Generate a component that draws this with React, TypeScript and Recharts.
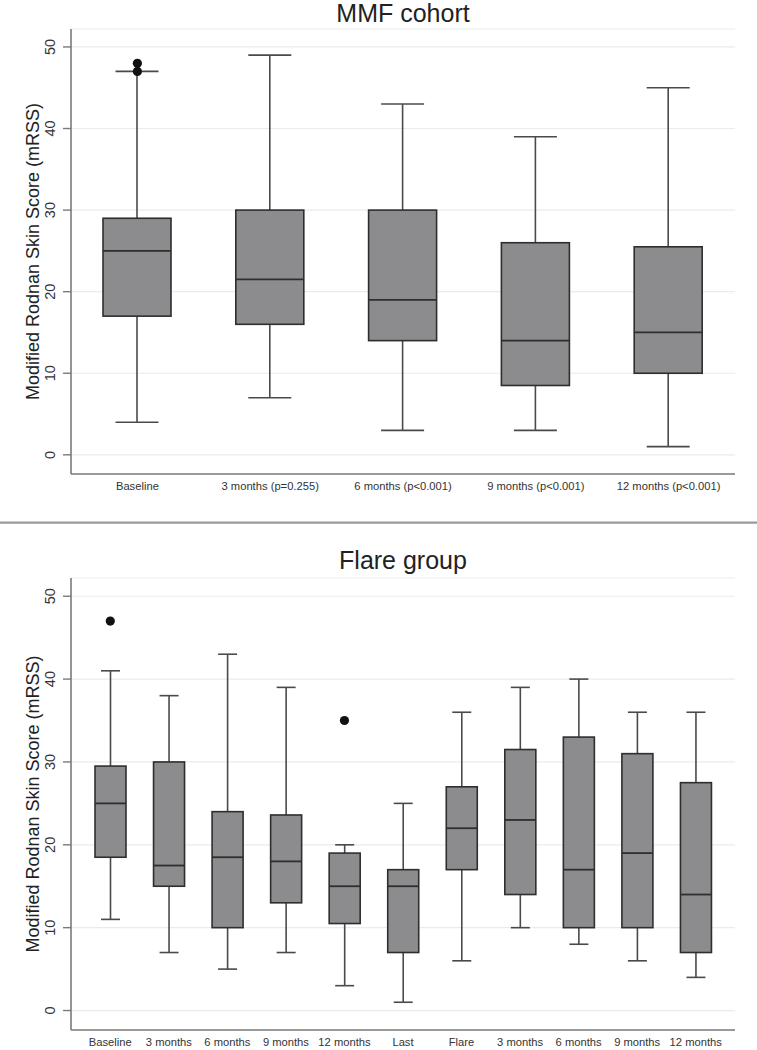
import React from "react";
import { ComposedChart, Bar, Line, XAxis, YAxis, CartesianGrid } from "recharts";

// ---- MMF cohort ----
const mmfCategories = ["Baseline", "3 months (p=0.255)", "6 months (p<0.001)", "9 months (p<0.001)", "12 months (p<0.001)"];
const mmfMin = [4, 7, 3, 3, 1];
const mmfQ1 = [17, 16, 14, 8.5, 10];
const mmfMedian = [25, 21.5, 19, 14, 15];
const mmfQ3 = [29, 30, 30, 26, 25.5];
const mmfMax = [47, 49, 43, 39, 45];
const mmfOutlierA: (number | null)[] = [47, null, null, null, null];
const mmfOutlierB: (number | null)[] = [48, null, null, null, null];

// ---- Flare group ----
const flareCategories = ["Baseline", "3 months", "6 months", "9 months", "12 months", "Last", "Flare", "3 months ", "6 months ", "9 months ", "12 months "];
const flareMin = [11, 7, 5, 7, 3, 1, 6, 10, 8, 6, 4];
const flareQ1 = [18.5, 15, 10, 13, 10.5, 7, 17, 14, 10, 10, 7];
const flareMedian = [25, 17.5, 18.5, 18, 15, 15, 22, 23, 17, 19, 14];
const flareQ3 = [29.5, 30, 24, 23.6, 19, 17, 27, 31.5, 33, 31, 27.5];
const flareMax = [41, 38, 43, 39, 20, 25, 36, 39, 40, 36, 36];
const flareOutlierA: (number | null)[] = [47, null, null, null, 35, null, null, null, null, null, null];

const yTicks = [0, 10, 20, 30, 40, 50];
const yDomain: [number, number] = [-2.35, 52.2];

const FONT = "'Liberation Sans', Arial, Helvetica, sans-serif";

function buildRows(cats: string[], mn: number[], q1: number[], md: number[], q3: number[], mx: number[], oa: (number | null)[], ob?: (number | null)[]) {
  return cats.map((c, i) => ({
    cat: c,
    range: [mn[i], mx[i]],
    min: mn[i],
    q1: q1[i],
    median: md[i],
    q3: q3[i],
    max: mx[i],
    outA: oa[i],
    outB: ob ? ob[i] : null,
  }));
}

const mmfRows = buildRows(mmfCategories, mmfMin, mmfQ1, mmfMedian, mmfQ3, mmfMax, mmfOutlierA, mmfOutlierB);
const flareRows = buildRows(flareCategories, flareMin, flareQ1, flareMedian, flareQ3, flareMax, flareOutlierA);

const makeBoxShape = (capWidth: number) => (props: any) => {
  const { x, y, width, height, payload } = props;
  if (x == null || y == null || !payload) return null;
  const span = payload.max - payload.min;
  const k = span > 0 ? height / span : 0;
  const py = (v: number) => y + (payload.max - v) * k;
  const cx = x + width / 2;
  const whisker = "#4a4a4a";
  return (
    <g>
      <line x1={cx} x2={cx} y1={py(payload.max)} y2={py(payload.q3)} stroke={whisker} strokeWidth={1.6} />
      <line x1={cx} x2={cx} y1={py(payload.q1)} y2={py(payload.min)} stroke={whisker} strokeWidth={1.6} />
      <line x1={cx - capWidth / 2} x2={cx + capWidth / 2} y1={py(payload.max)} y2={py(payload.max)} stroke={whisker} strokeWidth={1.6} />
      <line x1={cx - capWidth / 2} x2={cx + capWidth / 2} y1={py(payload.min)} y2={py(payload.min)} stroke={whisker} strokeWidth={1.6} />
      <rect x={x} y={py(payload.q3)} width={width} height={py(payload.q1) - py(payload.q3)} fill="#8c8c8e" stroke="#2e2e2e" strokeWidth={1.6} />
      <line x1={x} x2={x + width} y1={py(payload.median)} y2={py(payload.median)} stroke="#2e2e2e" strokeWidth={1.8} />
    </g>
  );
};

const YTick = (props: any) => {
  const { x, y, payload } = props;
  const bx = x - 6;
  return (
    <text x={bx} y={y} transform={`rotate(-90 ${bx} ${y})`} textAnchor="middle" fontSize={14.5} fill="#333" fontFamily={FONT}>
      {payload.value}
    </text>
  );
};

const XTick = (props: any) => {
  const { x, y, payload } = props;
  return (
    <text x={x} y={y + 8} textAnchor="middle" fontSize={11.2} fill="#333" fontFamily={FONT}>
      {String(payload.value).trim()}
    </text>
  );
};

const yLabel = (props: any) => {
  const vb = props.viewBox || {};
  const lx = (vb.x || 0) + 33;
  const ly = (vb.y || 0) + (vb.height || 0) / 2;
  return (
    <text x={lx} y={ly} transform={`rotate(-90 ${lx} ${ly})`} textAnchor="middle" dominantBaseline="central" fontSize={18} fill="#222" fontFamily={FONT}>
      Modified Rodnan Skin Score (mRSS)
    </text>
  );
};

function BoxChart({ rows, width, height, margin, barSize, capWidth, padding }: any) {
  return (
    <ComposedChart width={width} height={height} data={rows} margin={margin}>
      <CartesianGrid horizontal={true} vertical={false} stroke="#ebebeb" strokeWidth={1.2} />
      <XAxis
        dataKey="cat"
        type="category"
        interval={0}
        height={20}
        tickLine={false}
        axisLine={{ stroke: "#7a7a7a", strokeWidth: 1.6 }}
        tick={<XTick />}
        padding={padding}
      />
      <YAxis
        type="number"
        domain={yDomain}
        ticks={yTicks}
        allowDataOverflow={true}
        width={71}
        tickSize={8}
        tickMargin={2}
        tickLine={{ stroke: "#7a7a7a", strokeWidth: 1.4 }}
        axisLine={{ stroke: "#7a7a7a", strokeWidth: 1.6 }}
        tick={<YTick />}
        label={{ content: yLabel }}
      />
      <Bar dataKey="range" barSize={barSize} shape={makeBoxShape(capWidth)} isAnimationActive={false} />
      <Line dataKey="outA" stroke="none" dot={{ r: 4.6, fill: "#111", stroke: "#111", strokeWidth: 0 }} activeDot={false} isAnimationActive={false} connectNulls={false} />
      <Line dataKey="outB" stroke="none" dot={{ r: 4.6, fill: "#111", stroke: "#111", strokeWidth: 0 }} activeDot={false} isAnimationActive={false} connectNulls={false} />
    </ComposedChart>
  );
}

export default function App() {
  return (
    <div style={{ position: "absolute", left: 0, top: 0, width: 757, height: 1050, background: "#fff", overflow: "hidden" }}>
      <div style={{ position: "absolute", left: 0, top: 0 }}>
        <BoxChart
          rows={mmfRows}
          width={757}
          height={500}
          margin={{ top: 29, right: 22, bottom: 6, left: 0 }}
          barSize={68}
          capWidth={43}
          padding={{ left: 0, right: 0 }}
        />
      </div>
      <div style={{ position: "absolute", left: 0, top: 530 }}>
        <BoxChart
          rows={flareRows}
          width={757}
          height={520}
          margin={{ top: 48, right: 22, bottom: 0, left: 0 }}
          barSize={31}
          capWidth={19}
          padding={{ left: 10, right: 10 }}
        />
      </div>
      <svg width={757} height={1050} style={{ position: "absolute", left: 0, top: 0, pointerEvents: "none" }}>
        <text x={403} y={22} textAnchor="middle" fontSize={25} fill="#222" fontFamily={FONT}>MMF cohort</text>
        <line x1={0} x2={757} y1={522.7} y2={522.7} stroke="#9a9a9a" strokeWidth={2.2} />
        <text x={403} y={569} textAnchor="middle" fontSize={25} fill="#222" fontFamily={FONT}>Flare group</text>
      </svg>
    </div>
  );
}
